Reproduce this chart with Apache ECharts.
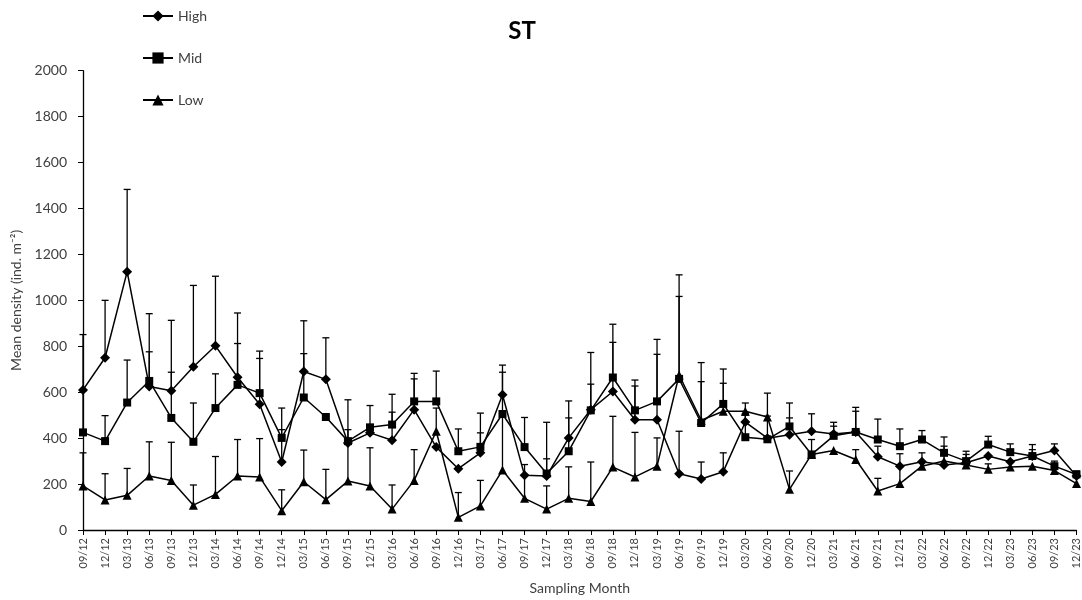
<!DOCTYPE html>
<html>
<head>
<meta charset="utf-8">
<script src="https://cdn.jsdelivr.net/npm/echarts@6/dist/echarts.min.js"></script>
<style>html,body{margin:0;padding:0;background:#fff;}#c{width:1082px;height:600px;}</style>
</head>
<body>
<div id="c"></div>
<script>
const categories = ['09/12','12/12','03/13','06/13','09/13','12/13','03/14','06/14','09/14','12/14','03/15','06/15','09/15','12/15','03/16','06/16','09/16','12/16','03/17','06/17','09/17','12/17','03/18','06/18','09/18','12/18','03/19','06/19','09/19','12/19','03/20','06/20','09/20','12/20','03/21','06/21','09/21','12/21','03/22','06/22','09/22','12/22','03/23','06/23','09/23','12/23'];
const highMean = [610,750,1125,625,606,711,802,665,548,296,690,656,379,423,391,524,361,267,336,589,238,235,401,524,603,480,480,245,222,254,470,400,415,430,418,427,319,278,297,283,293,322,297,322,346,235];
const midMean  = [425,387,555,649,488,384,531,632,596,401,577,492,387,447,459,560,560,343,362,505,361,246,343,521,664,521,560,658,466,549,404,395,451,329,410,427,394,365,394,336,300,372,339,322,278,242];
const lowMean  = [192,131,151,235,216,108,155,235,231,84,210,132,213,192,91,216,430,55,105,261,138,91,138,124,274,231,278,675,478,517,517,492,177,329,346,307,170,202,278,300,283,264,274,278,259,202];
const highErr = [241,250,358,317,307,354,303,280,199,141,221,181,188,0,122,134,0,0,87,129,0,75,161,111,214,147,285,185,74,82,30,0,73,76,51,90,46,0,39,0,36,0,0,28,29,0];
const midErr  = [180,111,185,127,199,169,149,180,183,130,191,0,0,95,132,122,132,97,147,182,129,223,145,252,232,132,270,359,180,152,104,101,102,65,42,107,89,75,39,69,43,36,36,50,22,15];
const lowErr  = [144,114,117,149,166,88,165,159,167,91,138,132,224,166,105,134,101,108,111,240,147,101,137,172,221,194,123,436,251,122,36,104,80,0,0,43,55,130,0,65,0,24,0,0,0,0];
const yTicks = {min:0, max:2000, interval:200};

const chart = echarts.init(document.getElementById('c'));
const FONT = 'Lato, "Open Sans", sans-serif';

function errData(mean, err){ return mean.map((m,i)=>[i, m, err[i]]); }
function errSeries(name, mean, err){
  return {
    type:'custom', name: name + ' err', silent:true, z:1,
    data: errData(mean, err),
    encode:{x:0, y:1},
    renderItem:function(params, api){
      const x = api.value(0), y = api.value(1), e = api.value(2);
      if (!(e > 0)) return null;
      const p0 = api.coord([x, y]);
      const p1 = api.coord([x, y + e]);
      const st = {stroke:'#000', lineWidth:1.3};
      return {type:'group', children:[
        {type:'line', shape:{x1:p0[0], y1:p0[1], x2:p1[0], y2:p1[1]}, style:st},
        {type:'line', shape:{x1:p1[0]-3.5, y1:p1[1], x2:p1[0]+3.5, y2:p1[1]}, style:st}
      ]};
    }
  };
}
function lineSeries(name, data, symbol, size){
  return {
    type:'line', name:name, data:data, symbol:symbol, symbolSize:size, z:3,
    lineStyle:{color:'#000', width:1.5}, itemStyle:{color:'#000'},
    showSymbol:true
  };
}

chart.setOption({
  animation:false,
  backgroundColor:'#fff',
  title:{text:'ST', left:517, top:14, textAlign:'center',
    textStyle:{fontFamily:FONT, fontWeight:'bold', fontSize:24, color:'#000'}},
  legend:{
    orient:'vertical', left:142, top:9, padding:0, itemGap:28, itemWidth:30, itemHeight:14,
    data:['High','Mid','Low'],
    textStyle:{fontFamily:FONT, fontSize:14, color:'#404040'}
  },
  grid:{left:83, right:5, top:70.7, bottom:67.4, containLabel:false},
  xAxis:{
    type:'category', data:categories, boundaryGap:false,
    name:'Sampling Month', nameLocation:'middle', nameGap:51,
    nameTextStyle:{fontFamily:FONT, fontSize:14, color:'#404040'},
    axisLine:{lineStyle:{color:'#000', width:1.3}},
    axisTick:{show:true, length:5, lineStyle:{color:'#000'}, interval:0},
    axisLabel:{rotate:90, interval:0, margin:8, fontFamily:FONT, fontSize:11, color:'#404040'},
    splitLine:{show:false}
  },
  yAxis:{
    type:'value', min:yTicks.min, max:yTicks.max, interval:yTicks.interval,
    name:'Mean density (ind. m⁻²)', nameLocation:'middle', nameGap:57, nameRotate:90,
    nameTextStyle:{fontFamily:FONT, fontSize:14, color:'#404040'},
    axisLine:{show:true, lineStyle:{color:'#000', width:1.3}},
    axisTick:{show:true, length:5, lineStyle:{color:'#000'}},
    axisLabel:{margin:16, fontFamily:FONT, fontSize:14, color:'#404040', formatter:function(v){return String(v);}},
    splitLine:{show:false}
  },
  series:[
    errSeries('High', highMean, highErr),
    errSeries('Mid', midMean, midErr),
    errSeries('Low', lowMean, lowErr),
    lineSeries('High', highMean, 'diamond', 10),
    lineSeries('Mid', midMean, 'rect', 8),
    lineSeries('Low', lowMean, 'triangle', 9)
  ]
});
</script>
</body>
</html>
